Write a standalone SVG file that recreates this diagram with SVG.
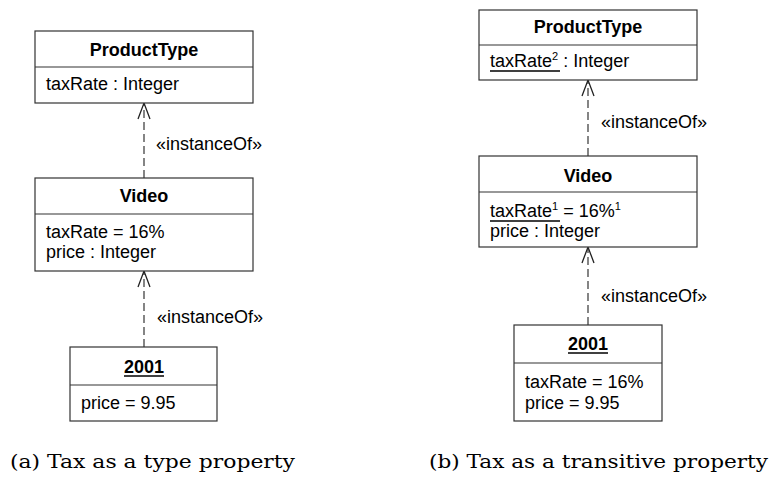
<svg xmlns="http://www.w3.org/2000/svg" width="771" height="484" viewBox="0 0 771 484">
<style>
.box{fill:#fff;stroke:#333;stroke-width:1.2}
.div{stroke:#333;stroke-width:1.2}
.t{font-family:"Liberation Sans",Arial,sans-serif;font-size:18px;fill:#000}
.b{font-weight:bold}
.c{text-anchor:middle}
.sup{font-size:11px}
.dash{stroke:#444;stroke-width:1.3;stroke-dasharray:8,4;fill:none}
.head{stroke:#222;stroke-width:1.3;fill:none}
.cap{font-family:"DejaVu Serif","Liberation Serif",serif;font-size:19px;fill:#000}
.ul{stroke:#000;stroke-width:1.3}
</style>
<rect width="771" height="484" fill="#fff"/>
<g id="connectors">
  <line class="dash" x1="144" y1="178" x2="144" y2="104"/>
  <polyline class="head" points="138,119 144,103 150,119"/>
  <text class="t" x="156" y="150">«instanceOf»</text>
  <line class="dash" x1="144" y1="347" x2="144" y2="272"/>
  <polyline class="head" points="138,287 144,271 150,287"/>
  <text class="t" x="157" y="323">«instanceOf»</text>
  <line class="dash" x1="588" y1="156" x2="588" y2="81"/>
  <polyline class="head" points="582,96 588,80 594,96"/>
  <text class="t" x="601" y="128">«instanceOf»</text>
  <line class="dash" x1="588" y1="325" x2="588" y2="248"/>
  <polyline class="head" points="582,263 588,247 594,263"/>
  <text class="t" x="601" y="302">«instanceOf»</text>
</g>
<g id="a-producttype">
  <rect class="box" x="35" y="31" width="218" height="72"/>
  <line class="div" x1="35" y1="67" x2="253" y2="67"/>
  <text class="t b c" x="144" y="56">ProductType</text>
  <text class="t" x="46" y="90">taxRate : Integer</text>
</g>
<g id="a-video">
  <rect class="box" x="35" y="178" width="218" height="93"/>
  <line class="div" x1="35" y1="214" x2="253" y2="214"/>
  <text class="t b c" x="144" y="202">Video</text>
  <text class="t" x="46" y="238">taxRate = 16%</text>
  <text class="t" x="46" y="258">price : Integer</text>
</g>
<g id="a-2001">
  <rect class="box" x="70" y="347" width="147" height="74"/>
  <line class="div" x1="70" y1="385" x2="217" y2="385"/>
  <text class="t b c" x="144" y="373">2001</text>
  <line class="ul" x1="124" y1="376" x2="164" y2="376"/>
  <text class="t" x="81" y="409">price = 9.95</text>
</g>
<g id="b-producttype">
  <rect class="box" x="479" y="10" width="218" height="70"/>
  <line class="div" x1="479" y1="45" x2="697" y2="45"/>
  <text class="t b c" x="588" y="33">ProductType</text>
  <text class="t" x="490" y="67">taxRate<tspan class="sup" dy="-7">2</tspan><tspan dy="7"> : Integer</tspan></text>
  <line class="ul" x1="490" y1="71" x2="560" y2="71"/>
</g>
<g id="b-video">
  <rect class="box" x="479" y="156" width="218" height="91"/>
  <line class="div" x1="479" y1="192" x2="697" y2="192"/>
  <text class="t b c" x="588" y="182">Video</text>
  <text class="t" x="490" y="217">taxRate<tspan class="sup" dy="-7">1</tspan><tspan dy="7"> = 16%</tspan><tspan class="sup" dy="-7">1</tspan></text>
  <line class="ul" x1="490" y1="221" x2="560" y2="221"/>
  <text class="t" x="490" y="237">price : Integer</text>
</g>
<g id="b-2001">
  <rect class="box" x="514" y="325" width="148" height="96"/>
  <line class="div" x1="514" y1="363" x2="662" y2="363"/>
  <text class="t b c" x="588" y="350">2001</text>
  <line class="ul" x1="568" y1="353" x2="608" y2="353"/>
  <text class="t" x="525" y="388">taxRate = 16%</text>
  <text class="t" x="525" y="409">price = 9.95</text>
</g>
<g id="captions">
  <text class="cap" x="10" y="468" textLength="285" lengthAdjust="spacingAndGlyphs">(a) Tax as a type property</text>
  <text class="cap" x="429" y="468" textLength="339" lengthAdjust="spacingAndGlyphs">(b) Tax as a transitive property</text>
</g>
</svg>
